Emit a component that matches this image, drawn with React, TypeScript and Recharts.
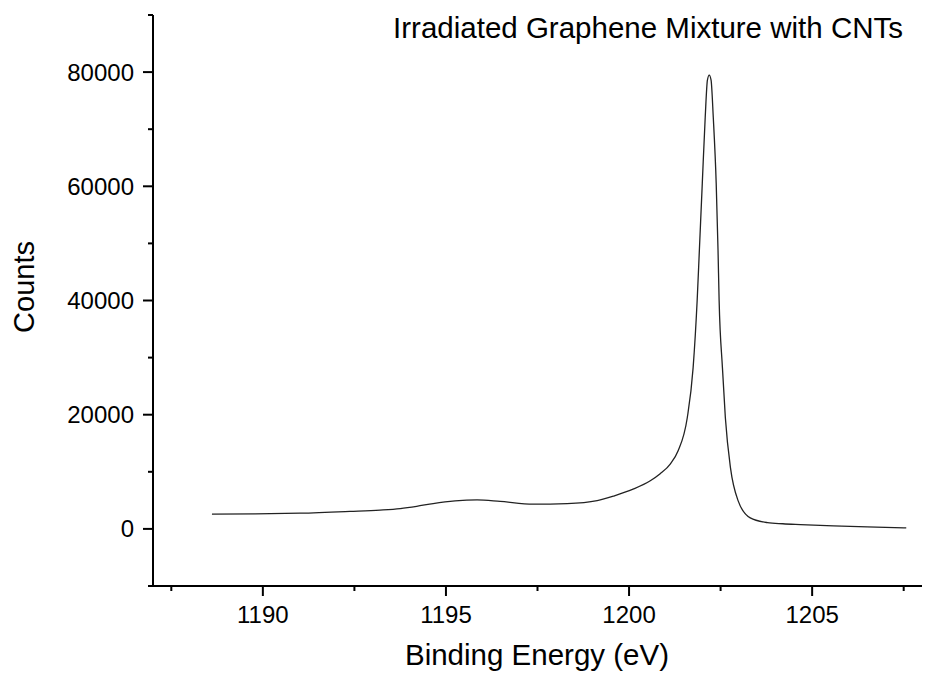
import { LineChart, Line, XAxis, YAxis, Label } from "recharts";

const energy = [
  1188.61, 1189.8, 1191.02, 1192.38, 1193.2, 1193.75, 1194.2, 1194.65, 1195.25, 1195.85,
  1196.48, 1197.38, 1198.31, 1199.13, 1199.6, 1200.11, 1200.58, 1200.85, 1201.13, 1201.34,
  1201.59, 1201.75, 1201.86, 1201.92, 1202.0, 1202.08, 1202.14, 1202.19, 1202.24,
  1202.3, 1202.38, 1202.43, 1202.46, 1202.55, 1202.63, 1202.77, 1202.98, 1203.31,
  1203.78, 1204.2, 1204.68, 1205.58, 1206.5, 1207.57,
];
const counts = [
  2580, 2620, 2750, 3070, 3300, 3560, 3950, 4440, 4910, 5090,
  4820, 4330, 4440, 4960, 5800, 6960, 8420, 9650, 11400, 13680,
  19470, 28240, 39990, 48760, 60510, 72090, 78580, 79460, 78580,
  72090, 60510, 48760, 39990, 28240, 19470, 10700, 4910, 1930,
  1100, 900, 760, 530, 350, 175,
];

const xTicks = [1187.5, 1190, 1192.5, 1195, 1197.5, 1200, 1202.5, 1205, 1207.5];
const xMajor = [1190, 1195, 1200, 1205];
const yTicks = [-10000, 0, 10000, 20000, 30000, 40000, 50000, 60000, 70000, 80000, 90000];
const yMajor = [0, 20000, 40000, 60000, 80000];

const data = energy.map((e, i) => ({ e, c: counts[i] }));

const FONT = "'Liberation Sans', Arial, sans-serif";

const XTick = (props: any) => {
  const { x, y, payload } = props;
  const major = xMajor.includes(payload.value);
  return (
    <g>
      <line x1={x} x2={x} y1={y - 10} y2={major ? y : y - 5} stroke="#000" strokeWidth={2} />
      {major && (
        <text x={x} y={y + 27} textAnchor="middle" fontSize={24} fontFamily={FONT} fill="#000">
          {payload.value}
        </text>
      )}
    </g>
  );
};

const YTick = (props: any) => {
  const { x, y, payload } = props;
  const major = yMajor.includes(payload.value);
  return (
    <g>
      <line x1={major ? x : x + 5} x2={x + 10} y1={y} y2={y} stroke="#000" strokeWidth={2} />
      {major && (
        <text x={x - 9} y={y} dy="0.35em" textAnchor="end" fontSize={24} fontFamily={FONT} fill="#000">
          {payload.value}
        </text>
      )}
    </g>
  );
};

export default function App() {
  return (
    <div style={{ position: "absolute", left: 0, top: 0, width: 930, height: 679, background: "#fff" }}>
      <LineChart width={930} height={679} data={data} margin={{ top: 15, right: 8, bottom: 0, left: 0 }}>
        <XAxis
          dataKey="e"
          type="number"
          domain={[1187, 1208]}
          ticks={xTicks}
          allowDataOverflow
          height={93}
          tickSize={10}
          tickMargin={0}
          tickLine={false}
          axisLine={{ stroke: "#000", strokeWidth: 2 }}
          tick={<XTick />}
        >
          <Label
            content={() => (
              <text x={537} y={665} textAnchor="middle" fontSize={29.5} fontFamily={FONT} fill="#000">
                Binding Energy (eV)
              </text>
            )}
          />
        </XAxis>
        <YAxis
          type="number"
          domain={[-10000, 90000]}
          ticks={yTicks}
          allowDataOverflow
          width={153}
          tickSize={10}
          tickMargin={0}
          tickLine={false}
          axisLine={{ stroke: "#000", strokeWidth: 2 }}
          tick={<YTick />}
        >
          <Label
            content={() => (
              <text
                x={34}
                y={287}
                textAnchor="middle"
                fontSize={29}
                fontFamily={FONT}
                fill="#000"
                transform="rotate(-90, 34, 287)"
              >
                Counts
              </text>
            )}
          />
        </YAxis>
        <Line
          dataKey="c"
          type="monotone"
          stroke="#222"
          strokeWidth={1.3}
          dot={false}
          isAnimationActive={false}
        />
      </LineChart>
      <svg width={930} height={60} style={{ position: "absolute", left: 0, top: 0 }}>
        <text x={903} y={38} textAnchor="end" fontSize={29.5} fontFamily={FONT} fill="#000">
          Irradiated Graphene Mixture with CNTs
        </text>
      </svg>
    </div>
  );
}
